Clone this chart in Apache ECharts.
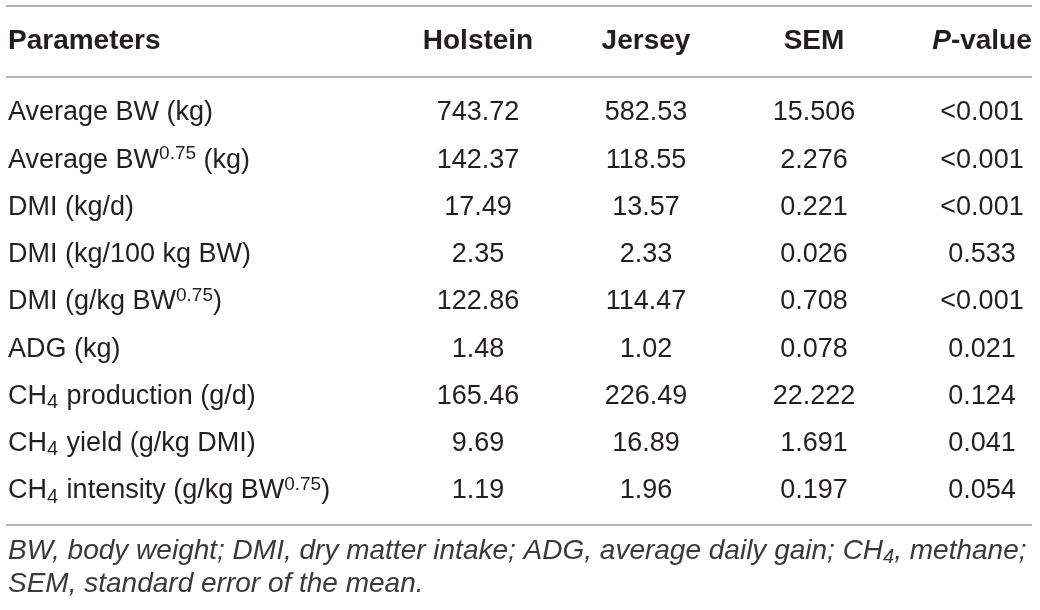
<!DOCTYPE html>
<html>
<head>
<meta charset="utf-8">
<script src="https://cdn.jsdelivr.net/npm/echarts@6/dist/echarts.min.js"></script>
<style>
  html, body { margin: 0; padding: 0; background: #fff; }
  #table { width: 1040px; height: 610px; }
</style>
</head>
<body>
<div id="table"></div>
<script>
// table content
const columns = ["Holstein", "Jersey", "SEM", "{ib|P}-value"];
const parameters = [
  "Average BW (kg)",
  "Average BW{sup|0.75} (kg)",
  "DMI (kg/d)",
  "DMI (kg/100 kg BW)",
  "DMI (g/kg BW{sup|0.75})",
  "ADG (kg)",
  "CH{sub|4} production (g/d)",
  "CH{sub|4} yield (g/kg DMI)",
  "CH{sub|4} intensity (g/kg BW{sup|0.75})"
];
const holstein = ["743.72", "142.37", "17.49", "2.35", "122.86", "1.48", "165.46", "9.69", "1.19"];
const jersey = ["582.53", "118.55", "13.57", "2.33", "114.47", "1.02", "226.49", "16.89", "1.96"];
const sem = ["15.506", "2.276", "0.221", "0.026", "0.708", "0.078", "22.222", "1.691", "0.197"];
const pValue = ["<0.001", "<0.001", "<0.001", "0.533", "<0.001", "0.021", "0.124", "0.041", "0.054"];
const footnote = [
  "BW, body weight; DMI, dry matter intake; ADG, average daily gain; CH{sub|4}, methane;",
  "SEM, standard error of the mean."
];

const FONT = "Liberation Sans, Arial, Helvetica, sans-serif";
const INK = "#231f20";
const NOTE = "#3a3a3a";
const RULE = "#9b9b9b";

let cells = [];
[holstein, jersey, sem, pValue].forEach((col, c) => {
  col.forEach((v, r) => cells.push([c, r, v]));
});

let chart = echarts.init(document.getElementById("table"));

chart.setOption({
  backgroundColor: "#fff",
  animation: false,
  title: {
    text: "Parameters",
    left: 8,
    top: 27,
    padding: 0,
    textStyle: { fontFamily: FONT, fontSize: 28, fontWeight: "bold", color: INK }
  },
  grid: { left: 478, right: 58, top: 113, bottom: 119 },
  xAxis: {
    type: "category",
    position: "top",
    data: columns,
    boundaryGap: false,
    axisLine: { show: false },
    axisTick: { show: false },
    splitLine: { show: false },
    axisLabel: {
      interval: 0,
      margin: 72,
      verticalAlign: "middle",
      fontFamily: FONT,
      fontSize: 28,
      fontWeight: "bold",
      color: INK,
      rich: {
        ib: { fontFamily: FONT, fontSize: 28, fontWeight: "bold", fontStyle: "italic", color: INK }
      }
    }
  },
  yAxis: {
    type: "category",
    data: parameters,
    inverse: true,
    boundaryGap: false,
    axisLine: { show: false },
    axisTick: { show: false },
    splitLine: { show: false },
    axisLabel: {
      interval: 0,
      align: "left",
      margin: 470,
      fontFamily: FONT,
      fontSize: 27,
      color: INK,
      lineHeight: 30,
      rich: {
        sup: { fontFamily: FONT, fontSize: 19, color: INK, padding: [0, 0, 12, 0] },
        sub: { fontFamily: FONT, fontSize: 20, color: INK, padding: [12, 1, 0, 0] }
      }
    }
  },
  series: [{
    type: "custom",
    data: cells,
    renderItem: function (params, api) {
      let p = api.coord([api.value(0), api.value(1)]);
      return {
        type: "text",
        x: p[0],
        y: p[1],
        style: {
          text: cells[params.dataIndex][2],
          font: "27px " + FONT,
          fill: INK,
          textAlign: "center",
          textVerticalAlign: "middle"
        }
      };
    }
  }],
  graphic: [
    { type: "line", shape: { x1: 6, y1: 6, x2: 1032, y2: 6 }, style: { stroke: RULE, lineWidth: 1.5 } },
    { type: "line", shape: { x1: 6, y1: 77, x2: 1032, y2: 77 }, style: { stroke: RULE, lineWidth: 1.5 } },
    { type: "line", shape: { x1: 6, y1: 525, x2: 1032, y2: 525 }, style: { stroke: RULE, lineWidth: 1.5 } },
    {
      type: "text", left: 8, top: 535,
      style: {
        text: footnote[0],
        fontFamily: FONT, fontSize: 28, fontStyle: "italic", fill: NOTE, lineHeight: 32,
        rich: { sub: { fontFamily: FONT, fontSize: 20, fontStyle: "italic", fill: NOTE, padding: [12, 0, 0, 0] } }
      }
    },
    {
      type: "text", left: 8, top: 568,
      style: { text: footnote[1], fontFamily: FONT, fontSize: 28, fontStyle: "italic", fill: NOTE, lineHeight: 32 }
    }
  ]
});
</script>
</body>
</html>
